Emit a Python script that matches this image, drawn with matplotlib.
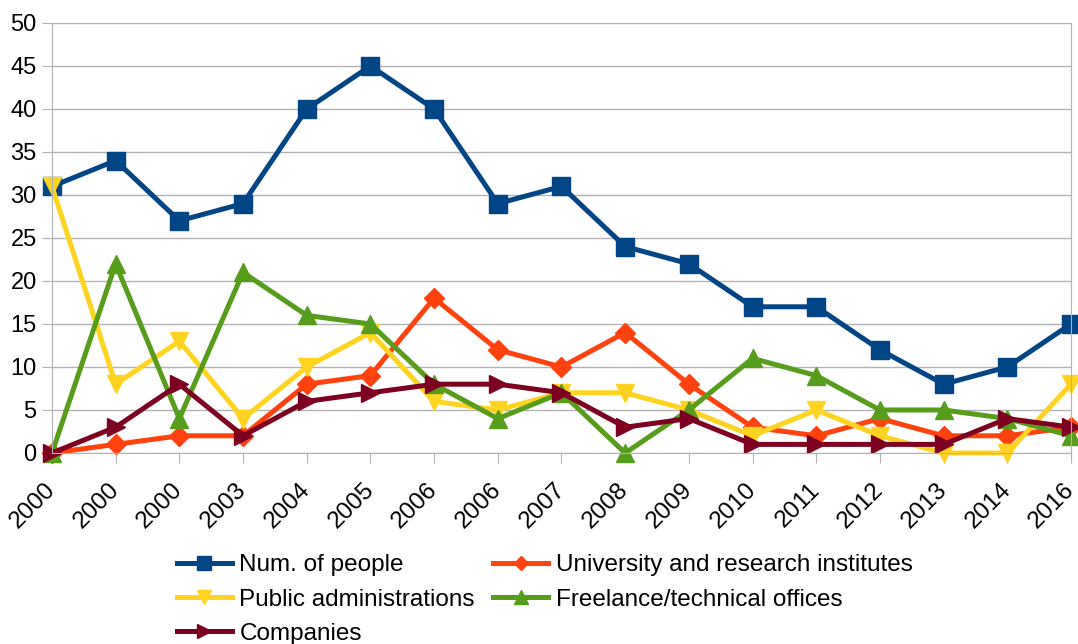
from matplotlib import pyplot as plt

plt.rcParams['font.family'] = ['Liberation Sans', 'DejaVu Sans']

years = ["2000", "2000", "2000", "2003", "2004", "2005", "2006", "2006", "2007",
         "2008", "2009", "2010", "2011", "2012", "2013", "2014", "2016"]

num_people = [31, 34, 27, 29, 40, 45, 40, 29, 31, 24, 22, 17, 17, 12, 8, 10, 15]
university = [0, 1, 2, 2, 8, 9, 18, 12, 10, 14, 8, 3, 2, 4, 2, 2, 3]
public_adm = [31, 8, 13, 4, 10, 14, 6, 5, 7, 7, 5, 2, 5, 2, 0, 0, 8]
freelance = [0, 22, 4, 21, 16, 15, 8, 4, 7, 0, 5, 11, 9, 5, 5, 4, 2]
companies = [0, 3, 8, 2, 6, 7, 8, 8, 7, 3, 4, 1, 1, 1, 1, 4, 3]

series = [
    ("Num. of people", num_people, "#004586", "s"),
    ("University and research institutes", university, "#ff420e", "D"),
    ("Public administrations", public_adm, "#ffd320", "v"),
    ("Freelance/technical offices", freelance, "#579d1c", "^"),
    ("Companies", companies, "#7e0021", ">"),
]

fig = plt.figure(figsize=(10.78, 6.44), dpi=100)
ax = fig.add_axes([0.0482, 0.2966, 0.9453, 0.6677])

x = list(range(len(years)))
handles = {}
for label, values, color, marker in series:
    ms = 10 if marker == "D" else 13
    line, = ax.plot(x, values, color=color, linewidth=3.6, marker=marker,
                    markersize=ms, label=label, clip_on=False)
    handles[label] = line

ax.set_xlim(0, len(years) - 1)
ax.set_ylim(0, 50)
ax.set_yticks(range(0, 51, 5))
ax.grid(axis='y', color='#b3b3b3', linewidth=1)
ax.set_axisbelow(True)
for side in ['left', 'right', 'top', 'bottom']:
    ax.spines[side].set_color('#b3b3b3')
ax.spines['top'].set_visible(False)

ax.set_xticks(x)
ax.set_xticklabels(years, rotation=45, ha='right', va='center', rotation_mode='anchor')
ax.tick_params(axis='x', length=7, color='#b3b3b3', labelsize=17.5, pad=17)
ax.tick_params(axis='y', length=7, color='#b3b3b3', labelsize=17, pad=4)

# legend is filled column by column, so this order gives the row layout
order = ["Num. of people", "Public administrations", "Companies",
         "University and research institutes", "Freelance/technical offices"]
ax.legend([handles[k] for k in order], order, ncol=2, loc='upper left',
          bbox_to_anchor=(0.1227, -0.236), frameon=False, fontsize=17.5,
          handlelength=2.25, handletextpad=0.32, columnspacing=0.75,
          labelspacing=0.5, borderpad=0, borderaxespad=0, markerscale=0.75)

fig.savefig("out.png", dpi=100)
